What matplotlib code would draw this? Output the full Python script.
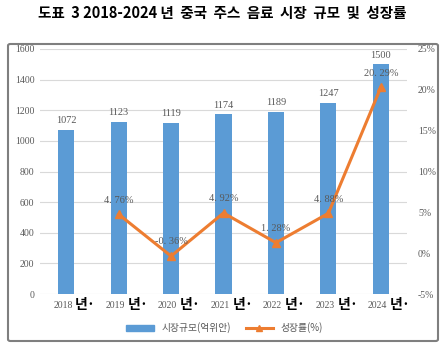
import matplotlib.pyplot as plt
from matplotlib.patches import FancyBboxPatch
from matplotlib.lines import Line2D
from matplotlib.patches import Patch
import matplotlib.transforms as mtransforms

years = ['2018', '2019', '2020', '2021', '2022', '2023', '2024']
market = [1072, 1123, 1119, 1174, 1189, 1247, 1500]
growth = [None, 4.76, -0.36, 4.92, 1.28, 4.88, 20.29]
growth_labels = ['', '4. 76%', '-0. 36%', '4. 92%', '1. 28%', '4. 88%', '20. 29%']

KR = ['Noto Sans CJK KR', 'DejaVu Sans']
NUM = 'Liberation Serif'
gray = '#595959'
blue = '#5B9BD5'
orange = '#ED7D31'

fig = plt.figure(figsize=(4.45, 3.47), dpi=100)
fig.text(0.5, 0.962, '도표  3 2018-2024 년  중국  주스  음료  시장  규모  및  성장률',
         ha='center', va='center', fontsize=10.5, fontweight='bold', family=KR)

# chart frame
frame = FancyBboxPatch((8 / 445, 6 / 347), 430 / 445, 297 / 347,
                       boxstyle='round,pad=0,rounding_size=0.005',
                       transform=fig.transFigure, fill=False,
                       edgecolor='#7f7f7f', linewidth=1.5)
fig.patches.append(frame)

ax = fig.add_axes([40 / 445, 53 / 347, 367 / 445, 245 / 347])
x = list(range(len(years)))
ax.bar(x, market, width=0.31, color=blue, zorder=2)
ax.set_ylim(0, 1600)
ax.set_xlim(-0.5, len(years) - 0.5)
ax.set_yticks(range(0, 1601, 200))
ax.grid(axis='y', color='#d9d9d9', linewidth=0.8, zorder=0)
for s in ax.spines.values():
    s.set_visible(False)
ax.tick_params(axis='both', length=0)
ax.tick_params(axis='y', labelsize=7, labelcolor=gray, pad=4)
for lab in ax.get_yticklabels():
    lab.set_family(NUM)
ax.set_xticks(x)
ax.set_xticklabels([])

for xi, v in zip(x, market):
    ax.text(xi, v + 30, str(v), ha='center', va='bottom', fontsize=7.5,
            color=gray, family=NUM, zorder=4)

# x labels: year in small gray, "년·" in bigger black
trans = mtransforms.blended_transform_factory(ax.transData, ax.transAxes)
for xi, yr in zip(x, years):
    ax.text(xi + 0.12, -0.045, yr, transform=trans, ha='right', va='center',
            fontsize=7, color=gray, family=NUM)
    ax.text(xi + 0.17, -0.045, '년·', transform=trans, ha='left', va='center',
            fontsize=10, color='black', fontweight='bold', family=KR)

ax2 = ax.twinx()
gx = [xi for xi, g in zip(x, growth) if g is not None]
gy = [g for g in growth if g is not None]
ax2.plot(gx, gy, color=orange, linewidth=2.2, marker='^', markersize=6, zorder=3)
ax2.set_ylim(-5, 25)
ax2.set_yticks(range(-5, 26, 5))
ax2.set_yticklabels([f'{t}%' for t in range(-5, 26, 5)])
for s in ax2.spines.values():
    s.set_visible(False)
ax2.tick_params(axis='y', length=0, labelsize=7, labelcolor=gray, pad=8)
for lab in ax2.get_yticklabels():
    lab.set_family(NUM)
for xi, g, t in zip(x, growth, growth_labels):
    if g is None:
        continue
    ax2.annotate(t, (xi, g), xytext=(0, 7), textcoords='offset points',
                 ha='center', va='bottom', fontsize=7.5, color=gray, family=NUM)

handles = [Patch(color=blue), Line2D([0], [0], color=orange, linewidth=2.2,
                                     marker='^', markersize=5)]
fig.legend(handles, ['시장규모(억위안)', '성장률(%)'], loc='center',
           bbox_to_anchor=(0.505, 0.055), ncol=2, frameon=False,
           prop={'family': KR, 'size': 7}, labelcolor=gray,
           handlelength=2.8, handleheight=0.5, columnspacing=1.5)

fig.savefig('out.png', dpi=100)
